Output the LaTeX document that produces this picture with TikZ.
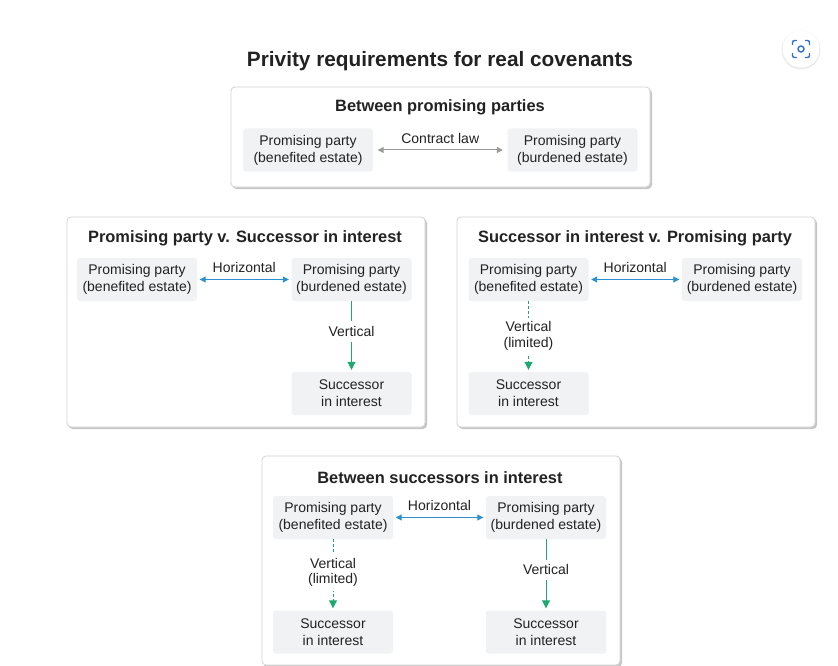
\documentclass[tikz,border=0pt]{standalone}
\usepackage{fontspec}
\setmainfont{Liberation Sans}
\usetikzlibrary{arrows.meta}
\definecolor{nodefill}{HTML}{F1F2F4}
\definecolor{boxline}{HTML}{D2D2D2}
\definecolor{hblue}{HTML}{2B8FD0}
\definecolor{vgreen}{HTML}{1FA872}
\definecolor{cgray}{HTML}{9A9A9A}
\definecolor{txt}{HTML}{222222}
\definecolor{lensblue}{HTML}{2F6FD6}
\tikzset{
  party/.style={fill=nodefill, rounded corners=3pt, minimum width=120pt, minimum height=43pt,
    align=center, font=\fontsize{14}{17}\selectfont, text=txt, inner sep=0pt},
  wideparty/.style={party, minimum width=130pt},
  panel/.style={draw=boxline, fill=white, rounded corners=4pt, line width=0.8pt},
  panelshadow/.style={fill=black!22, rounded corners=4pt},
  heading/.style={font=\fontsize{16.4}{19}\selectfont\bfseries, text=txt, inner sep=0pt, anchor=base},
  maintitle/.style={font=\fontsize{20.8}{24}\selectfont\bfseries, text=txt, inner sep=0pt, anchor=base},
  lbl/.style={font=\fontsize{14}{16}\selectfont, text=txt, align=center, inner sep=1pt},
  vlbl/.style={lbl, fill=white, inner xsep=2pt, inner ysep=5pt},
  harrow/.style={hblue, line width=1pt, {Triangle[length=6pt,width=6pt]}-{Triangle[length=6pt,width=6pt]}, shorten <=2.5pt, shorten >=2.5pt},
  carrow/.style={cgray, line width=1pt, {Triangle[length=6pt,width=6pt]}-{Triangle[length=6pt,width=6pt]}, shorten <=4.5pt, shorten >=4.5pt},
  varrow/.style={vgreen, line width=1pt, -{Triangle[length=8pt,width=8pt]}, shorten >=2pt},
  vdash/.style={varrow, dash pattern=on 2.5pt off 2.5pt},
}
\begin{document}
\begin{tikzpicture}[x=1pt,y=-1pt]
\useasboundingbox[fill=white] (0,0) rectangle (838,666);

% lens icon
\fill[black!8] (801,50) circle (19.5);
\fill[white] (801,49) circle (18.5);
\begin{scope}[lensblue, line width=1.4pt, line cap=round, rounded corners=2pt]
  \draw (792.5,44.5) -- (792.5,40.5) -- (796.5,40.5);
  \draw (805.5,40.5) -- (809.5,40.5) -- (809.5,44.5);
  \draw (809.5,53.5) -- (809.5,57.5) -- (805.5,57.5);
  \draw (796.5,57.5) -- (792.5,57.5) -- (792.5,53.5);
\end{scope}
\draw[lensblue, line width=1.4pt] (801,49) circle (3);

% title
\node[maintitle] (title) at (440,67) {Privity requirements for real covenants};

% ---------- panel 1
\fill[panelshadow] (232.5,89) rectangle (652,189);
\draw[panel] (231,87) rectangle (650,187);
\node[heading] (h1) at (440,112) {Between promising parties};
\node[wideparty] (p1l) at (308,150) {Promising party\\(benefited estate)};
\node[wideparty] (p1r) at (572.5,150) {Promising party\\(burdened estate)};
\draw[carrow] (p1l) -- node[lbl, above=5pt] (c1) {Contract law} (p1r);

% ---------- panel 2
\fill[panelshadow] (68.5,219) rectangle (427,429);
\draw[panel] (67,217) rectangle (425,427);
\node[heading] (h2) at (245,242) {Promising party v. Successor in interest};
\node[party] (p2l) at (137,279.5) {Promising party\\(benefited estate)};
\node[party] (p2r) at (351.5,279.5) {Promising party\\(burdened estate)};
\node[party] (p2s) at (351.5,393.5) {Successor\\in interest};
\draw[harrow] (p2l) -- node[lbl, above=5pt] (hz2) {Horizontal} (p2r);
\draw[varrow] (p2r) -- node[vlbl, pos=0.43] (v2) {Vertical} (p2s);

% ---------- panel 3
\fill[panelshadow] (458.5,219) rectangle (817,429);
\draw[panel] (457,217) rectangle (815,427);
\node[heading] (h3) at (635,242) {Successor in interest v. Promising party};
\node[party] (p3l) at (528.5,279.5) {Promising party\\(benefited estate)};
\node[party] (p3r) at (742,279.5) {Promising party\\(burdened estate)};
\node[party] (p3s) at (528.5,393.5) {Successor\\in interest};
\draw[harrow] (p3l) -- node[lbl, above=5pt] (hz3) {Horizontal} (p3r);
\draw[vdash] (p3l) -- node[vlbl, pos=0.49, inner ysep=4pt, font=\fontsize{14}{15.5}\selectfont] (v3) {Vertical\\(limited)} (p3s);

% ---------- panel 4
\fill[panelshadow] (263.5,458) rectangle (622,667);
\draw[panel] (262,456) rectangle (620,665);
\node[heading] (h4) at (440,483) {Between successors in interest};
\node[party] (p4l) at (333,517.5) {Promising party\\(benefited estate)};
\node[party] (p4r) at (546,517.5) {Promising party\\(burdened estate)};
\node[party] (p4sl) at (333,632) {Successor\\in interest};
\node[party] (p4sr) at (546,632) {Successor\\in interest};
\draw[harrow] (p4l) -- node[lbl, above=5pt] (hz4) {Horizontal} (p4r);
\draw[vdash] (p4l) -- node[vlbl, pos=0.47, inner ysep=4pt, font=\fontsize{14}{15.5}\selectfont] (v4l) {Vertical\\(limited)} (p4sl);
\draw[varrow] (p4r) -- node[vlbl, pos=0.43] (v4r) {Vertical} (p4sr);

\end{tikzpicture}
\end{document}
